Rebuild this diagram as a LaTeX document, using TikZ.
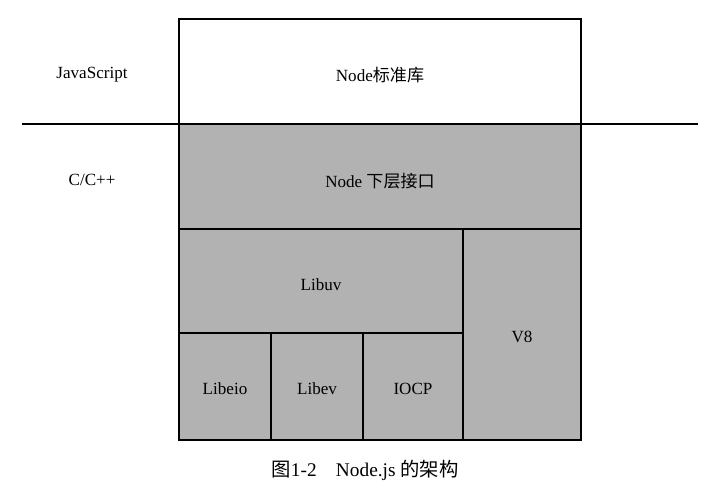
\documentclass[tikz,border=0pt]{standalone}
\usepackage{fontspec}
\setmainfont{Liberation Serif}
\newfontfamily\cjk{Noto Sans CJK SC}
\usetikzlibrary{positioning}

\definecolor{libgray}{RGB}{178,178,178}

\tikzset{
    box/.style={draw=black, line width=1.5pt},
    graybox/.style={box, fill=libgray},
    label/.style={align=center, font=\fontsize{12.8}{15}\selectfont},
}

\begin{document}
\begin{tikzpicture}[x=0.75pt, y=-0.75pt]
    \useasboundingbox (0,0) rectangle (720,499);

    % Node standard library
    \draw[box, fill=white] (179,19) rectangle (581,124);
    \node[label] (stdlib) at (380,75) {Node{\cjk 标准库}};

    % Node bindings
    \draw[graybox] (179,124) rectangle (581,229);
    \node[label] (binding) at (380,181) {Node {\cjk 下层接口}};

    % Libuv
    \draw[graybox] (179,229) rectangle (463,333);
    \node[label] (libuv) at (321,285) {Libuv};

    % V8
    \draw[graybox] (463,229) rectangle (581,440);
    \node[label] (v8) at (522,337) {V8};

    % Libeio
    \draw[graybox] (179,333) rectangle (271,440);
    \node[label] (libeio) at (225,389) {Libeio};

    % Libev
    \draw[graybox] (271,333) rectangle (363,440);
    \node[label] (libev) at (317,389) {Libev};

    % IOCP
    \draw[graybox] (363,333) rectangle (463,440);
    \node[label] (iocp) at (413,389) {IOCP};

    % ================================
    % Language split

    \coordinate (splitL) at (22,124);
    \coordinate (splitR) at (698,124);
    \draw[line width=1.5pt] (splitL) -- (splitR);

    \node[label] (js) at (92,75) {JavaScript};
    \node[label] (cpp) at (92,180) {C/C++};

    % ================================
    % Caption

    \node[font=\fontsize{14.5}{17}\selectfont] (caption) at (365,470)
        {{\cjk 图}1-2\quad Node.js {\cjk 的架构}};

\end{tikzpicture}
\end{document}
